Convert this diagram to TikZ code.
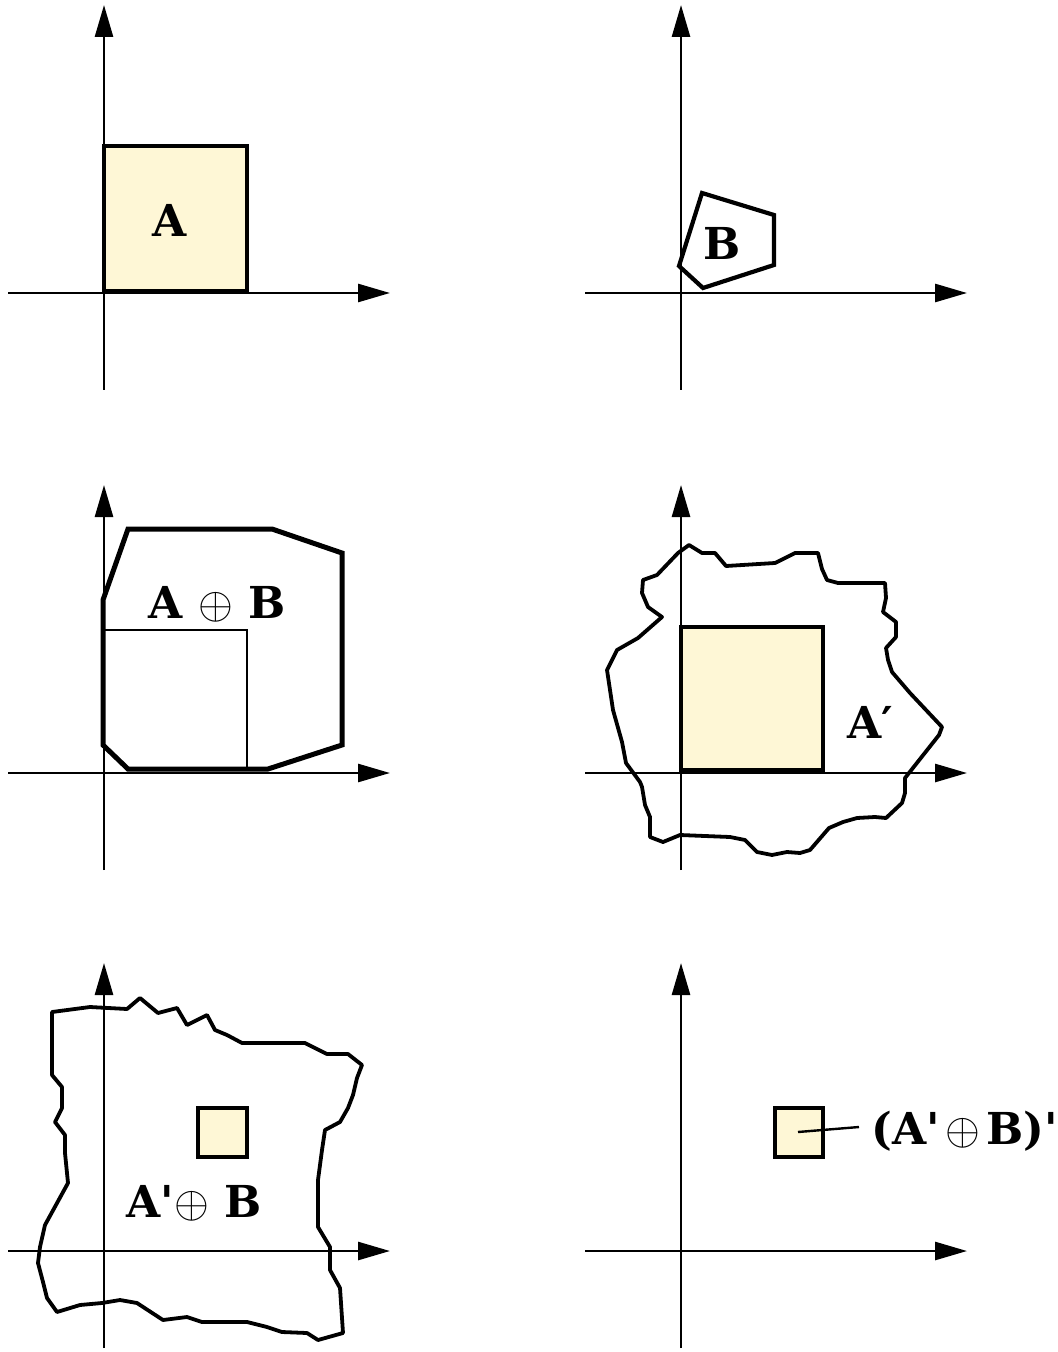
\documentclass[tikz,border=0pt]{standalone}
\usepackage{fontspec}
\usepackage{graphicx}
\newfontfamily\lblfont{DejaVu Serif}[BoldFont={DejaVu Serif Bold}]
\usetikzlibrary{arrows.meta,calc}
\definecolor{paleyellow}{HTML}{FEF7D6}
\newcommand{\dil}{\scalebox{1.08}{$\oplus$}}

\begin{document}
\begin{tikzpicture}[x=0.5pt,y=-0.5pt,
  axis/.style={line width=1.35pt,-{Triangle[length=16pt,width=9pt]}},
  outline/.style={line width=2.1pt,line join=miter},
  heavy/.style={line width=2.5pt,line join=miter},
  wavy/.style={line width=1.9pt,line join=round},
  lbl/.style={font=\lblfont\bfseries\fontsize{22}{26}\selectfont,inner sep=0pt}]

\useasboundingbox (0,0) rectangle (1057,1352);

% coordinate axes of the six panels
\foreach \n/\ox/\oy in {p1/104/293, p2/681/293, p3/104/773,
                        p4/681/773, p5/104/1251, p6/681/1251} {
  \coordinate (\n-o) at (\ox,\oy);
  \coordinate (\n-xl) at (\ox-96,\oy);
  \coordinate (\n-xr) at (\ox+286,\oy);
  \coordinate (\n-yb) at (\ox,\oy+97);
  \coordinate (\n-yt) at (\ox,\oy-288);
  \draw[axis] (\n-xl) -- (\n-xr);
  \draw[axis] (\n-yb) -- (\n-yt);
}

% panel 1: the set A
\draw[outline,fill=paleyellow] (104,146) rectangle (247,291);
\node[lbl] (lA) at (170,220) {A};

% panel 2: the structuring element B
\draw[outline] (702,193) -- (774,215) -- (774,265) -- (703,288) -- (679,266) -- cycle;
\node[lbl] (lB) at (722,243) {B};

% panel 3: dilation of A by B
\draw[line width=0.8pt] (104,770) -- (104,630) -- (247,630) -- (247,770);
\draw[heavy] (128,529) -- (272,529) -- (342,553) -- (342,745) -- (268,769)
  -- (128,769) -- (103,745) -- (103,600) -- cycle;
\node[lbl] (lAB) at (217,604) {A \dil\ B};

% panel 4: the complement A'
\draw[outline,fill=paleyellow] (681,627) rectangle (823,770);
\draw[wavy] (689,545) -- (702,553) -- (715,553) -- (726,566) -- (775,563)
  -- (795,553) -- (818,553) -- (822,569) -- (827,580) -- (838,583) -- (885,583)
  -- (886,598) -- (883,612) -- (896,622) -- (896,637) -- (886,648) -- (888,660)
  -- (892,672) -- (910,693) -- (942,727) -- (939,735) -- (905,778) -- (905,793)
  -- (902,803) -- (886,818) -- (875,817) -- (857,818) -- (843,822) -- (829,828)
  -- (810,850) -- (800,853) -- (787,852) -- (772,855) -- (757,852) -- (745,840)
  -- (730,837) -- (680,835) -- (663,842) -- (650,837) -- (650,817) -- (645,805)
  -- (642,787) -- (640,782) -- (626,763) -- (622,742) -- (613,710) -- (607,670)
  -- (617,650) -- (638,638) -- (662,617) -- (648,607) -- (642,593) -- (643,580)
  -- (657,575) -- (678,553) -- cycle;
\node[lbl] (lAc) at (870,722) {A′};

% panel 5: dilation of A' by B
\draw[wavy] (52,1012) -- (90,1007) -- (127,1009) -- (140,998) -- (158,1013)
  -- (177,1008) -- (187,1025) -- (207,1015) -- (215,1030) -- (227,1035)
  -- (242,1043) -- (305,1043) -- (327,1054) -- (348,1054) -- (362,1065)
  -- (357,1078) -- (353,1095) -- (348,1108) -- (340,1122) -- (325,1130)
  -- (322,1150) -- (318,1180) -- (318,1227) -- (330,1247) -- (330,1270)
  -- (340,1288) -- (343,1333) -- (318,1340) -- (307,1333) -- (282,1332)
  -- (267,1327) -- (247,1322) -- (202,1322) -- (187,1317) -- (163,1320)
  -- (137,1303) -- (120,1300) -- (102,1303) -- (80,1305) -- (57,1312)
  -- (47,1298) -- (43,1282) -- (38,1263) -- (40,1247) -- (45,1225)
  -- (68,1183) -- (65,1153) -- (65,1135) -- (55,1122) -- (62,1108)
  -- (62,1087) -- (52,1075) -- cycle;
\draw[outline,fill=paleyellow] (198,1108) rectangle (247,1157);
\node[lbl] (lAcB) at (194,1203) {A'\dil\ B};

% panel 6: the complement of the dilated complement
\draw[outline,fill=paleyellow] (775,1108) rectangle (823,1157);
\coordinate (lead) at (798,1132);
\coordinate (leadend) at (859,1127);
\node[lbl,anchor=west] (lRes) at (871,1131) {(A'\hspace{3pt}\dil\hspace{3pt}B)'};
\draw[line width=1.2pt] (lead) -- (leadend);
\end{tikzpicture}
\end{document}
